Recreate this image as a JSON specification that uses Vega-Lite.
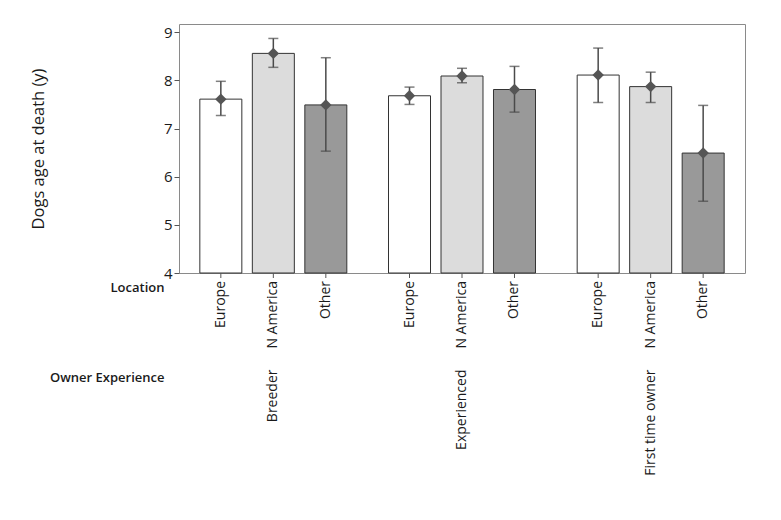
{
  "$schema": "https://vega.github.io/schema/vega-lite/v6.json",
  "width": 566,
  "height": 249,
  "padding": {"top": 24, "left": 30, "right": 5, "bottom": 5},
  "background": "white",
  "config": {
    "view": {"stroke": "#8a8a8a", "strokeWidth": 1},
    "axis": {"labelColor": "#1a1a1a", "titleColor": "#1a1a1a", "tickColor": "#555", "domainColor": "#8a8a8a"}
  },
  "data": {
    "values": [
      {"exp": "Breeder", "loc": "Europe", "mean": 7.61, "lo": 7.27, "hi": 7.98},
      {"exp": "Breeder", "loc": "N America", "mean": 8.56, "lo": 8.27, "hi": 8.87},
      {"exp": "Breeder", "loc": "Other", "mean": 7.49, "lo": 6.53, "hi": 8.47},
      {"exp": "Experienced", "loc": "Europe", "mean": 7.68, "lo": 7.5, "hi": 7.86},
      {"exp": "Experienced", "loc": "N America", "mean": 8.09, "lo": 7.95, "hi": 8.25},
      {"exp": "Experienced", "loc": "Other", "mean": 7.81, "lo": 7.34, "hi": 8.29},
      {"exp": "First time owner", "loc": "Europe", "mean": 8.11, "lo": 7.54, "hi": 8.67},
      {"exp": "First time owner", "loc": "N America", "mean": 7.87, "lo": 7.54, "hi": 8.17},
      {"exp": "First time owner", "loc": "Other", "mean": 6.49, "lo": 5.49, "hi": 7.48}
    ]
  },
  "encoding": {
    "x": {"field": "exp", "type": "nominal", "scale": {"paddingInner": 0, "paddingOuter": 0}, "axis": null},
    "xOffset": {"field": "loc", "type": "nominal", "scale": {"paddingInner": 0.2, "paddingOuter": 0.397}}
  },
  "resolve": {"axis": {"x": "independent"}},
  "layer": [
    {
      "mark": {"type": "bar", "stroke": "#333", "strokeWidth": 1},
      "encoding": {
        "x": {"field": "exp", "type": "nominal", "scale": {"paddingInner": 0, "paddingOuter": 0},
          "axis": {"orient": "bottom", "title": "Owner Experience", "titleFont": "Open Sans", "titleFontSize": 13, "titleFontWeight": 600,
            "titleAngle": 0, "titleAlign": "right", "titleBaseline": "middle", "titleX": -15, "titleY": 104,
            "labelAngle": 270, "labelAlign": "right", "labelBaseline": "middle", "labelPadding": 96,
            "labelFont": "Open Sans", "labelFontSize": 14, "ticks": false, "domain": false}},
        "y": {"field": "mean", "type": "quantitative", "scale": {"domain": [4, 9.17], "nice": false, "zero": false},
          "axis": {"title": "Dogs age at death (y)", "titleFont": "Open Sans", "titleFontSize": 16.5, "titleFontWeight": "normal",
            "titlePadding": 117, "values": [4, 5, 6, 7, 8, 9], "labelFont": "Open Sans", "labelFontSize": 15, "labelFontWeight": 500,
            "tickSize": 5, "labelPadding": 2, "grid": false, "domain": false}},
        "y2": {"datum": 4},
        "fill": {"field": "loc", "type": "nominal", "scale": {"domain": ["Europe", "N America", "Other"], "range": ["#ffffff", "#dcdcdc", "#999999"]}, "legend": null}
      }
    },
    {
      "mark": {"type": "rule", "color": "#4a4a4a", "strokeWidth": 1.5},
      "encoding": {
        "y": {"field": "lo", "type": "quantitative"},
        "y2": {"field": "hi"}
      }
    },
    {
      "mark": {"type": "tick", "color": "#4a4a4a", "thickness": 1.5, "size": 10},
      "encoding": {"y": {"field": "lo", "type": "quantitative"}}
    },
    {
      "mark": {"type": "tick", "color": "#4a4a4a", "thickness": 1.5, "size": 10},
      "encoding": {"y": {"field": "hi", "type": "quantitative"}}
    },
    {
      "mark": {"type": "point", "shape": "diamond", "filled": true, "color": "#555555", "size": 130, "opacity": 1},
      "encoding": {"y": {"field": "mean", "type": "quantitative"}}
    },
    {
      "mark": {"type": "point", "shape": "M0,0L0,1", "filled": false, "stroke": "#555555", "strokeWidth": 1, "size": 100, "opacity": 1},
      "encoding": {"y": {"datum": 4}}
    },
    {
      "mark": {"type": "text", "angle": 270, "align": "right", "baseline": "middle", "dx": -8, "font": "Open Sans", "fontSize": 14, "color": "#1a1a1a"},
      "encoding": {
        "x": {"field": "exp", "type": "nominal", "scale": {"paddingInner": 0, "paddingOuter": 0},
          "axis": {"orient": "bottom", "title": "Location", "titleFont": "Open Sans", "titleFontSize": 13, "titleFontWeight": 600,
            "titleAngle": 0, "titleAlign": "right", "titleBaseline": "middle", "titleX": -15, "titleY": 14,
            "labels": false, "ticks": false, "domain": false}},
        "y": {"datum": 4},
        "text": {"field": "loc"}
      }
    }
  ]
}
